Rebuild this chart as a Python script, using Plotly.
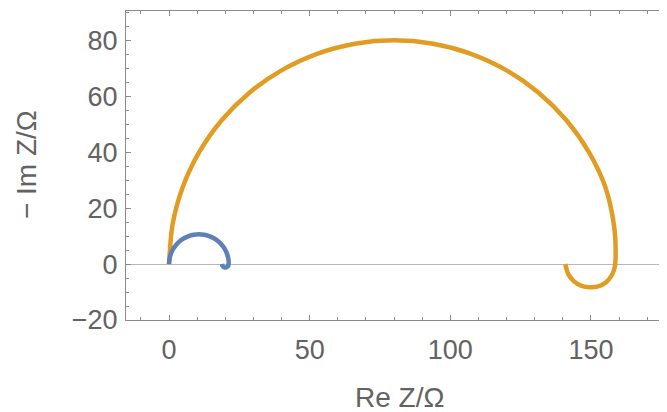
import plotly.graph_objects as go

# Blue spectrum (Re Z, -Im Z)
blue_re = [0, 0.16, 0.64, 1.43, 2.49, 3.8, 5.32, 7.0, 8.8, 10.64, 12.5, 14.28, 15.96, 17.48,
           18.8, 19.85, 20.64, 21.1, 21.2, 21.0, 20.4, 19.6, 19.0, 18.8]
blue_im = [0, 1.85, 3.64, 5.32, 6.84, 8.15, 9.21, 10.0, 10.48, 10.64, 10.48, 10.0, 9.21, 8.15,
           6.84, 5.32, 3.64, 1.85, 0.2, -0.7, -1.15, -1.15, -0.6, 0]

# Orange spectrum (Re Z, -Im Z)
orange_re = [0, 1.22, 4.82, 10.72, 18.72, 28.58, 40.0, 52.64, 66.11, 80.0, 93.89, 107.36, 120.0,
             131.42, 141.28, 149.28, 155.18, 158.2, 158.8, 158.5, 157.4, 155.3, 152.6, 149.7,
             146.7, 144.0, 141.9, 140.9]
orange_im = [0, 13.89, 27.36, 40.0, 51.42, 61.28, 69.28, 75.18, 78.78, 80.0, 78.78, 75.18, 69.28,
             61.28, 51.42, 40.0, 27.36, 13.89, 5.0, -1.0, -4.0, -6.6, -8.0, -8.3,
             -7.8, -6.2, -3.5, 0]

x_ticks = [0, 50, 100, 150]
y_ticks = [-20, 0, 20, 40, 60, 80]

BLUE = "#5E81B5"
ORANGE = "#E19C24"
GRAY = "#8a8a8a"
TXT = "#626262"
FONT = "Liberation Sans, Arial, sans-serif"

fig = go.Figure()
fig.add_trace(go.Scatter(x=orange_re, y=orange_im, mode="lines",
                         line=dict(color=ORANGE, width=4.5, shape="spline", smoothing=0.8),
                         hoverinfo="skip"))
fig.add_trace(go.Scatter(x=blue_re, y=blue_im, mode="lines",
                         line=dict(color=BLUE, width=4.5, shape="spline", smoothing=0.8),
                         hoverinfo="skip"))

fig.update_layout(
    width=667, height=404,
    margin=dict(l=118, r=0, t=3, b=92),
    paper_bgcolor="white", plot_bgcolor="white",
    showlegend=False,
    font=dict(family=FONT, color=TXT, size=27),
    xaxis=dict(range=[-15.3, 179.9], tickvals=x_ticks, showgrid=False, zeroline=False,
               showline=True, linecolor=GRAY, linewidth=1, mirror="ticks",
               ticks="inside", ticklen=5, tickcolor=GRAY, tickwidth=1,
               minor=dict(dtick=10, ticks="inside", ticklen=3, tickcolor=GRAY, showgrid=False),
               tickfont=dict(size=27, color=TXT, family=FONT), ticklabelstandoff=6),
    yaxis=dict(range=[-20, 90.5], tickvals=y_ticks, showgrid=False,
               zeroline=True, zerolinecolor="#b8b8b8", zerolinewidth=1,
               showline=True, linecolor=GRAY, linewidth=1, mirror=False,
               ticks="inside", ticklen=5, tickcolor=GRAY, tickwidth=1,
               minor=dict(dtick=5, ticks="inside", ticklen=3, tickcolor=GRAY, showgrid=False),
               tickfont=dict(size=27, color=TXT, family=FONT), ticklabelstandoff=2),
    annotations=[
        dict(text="Re Z/Ω", xref="paper", yref="paper", x=0.498, y=-0.252,
             xanchor="center", yanchor="middle", showarrow=False,
             font=dict(size=28, color=TXT, family=FONT)),
        dict(text="− Im Z/Ω", xref="paper", yref="paper", x=-0.18, y=0.502,
             xanchor="center", yanchor="middle", showarrow=False, textangle=-90,
             font=dict(size=28, color=TXT, family=FONT)),
    ],
)

fig.write_html("out.html")
